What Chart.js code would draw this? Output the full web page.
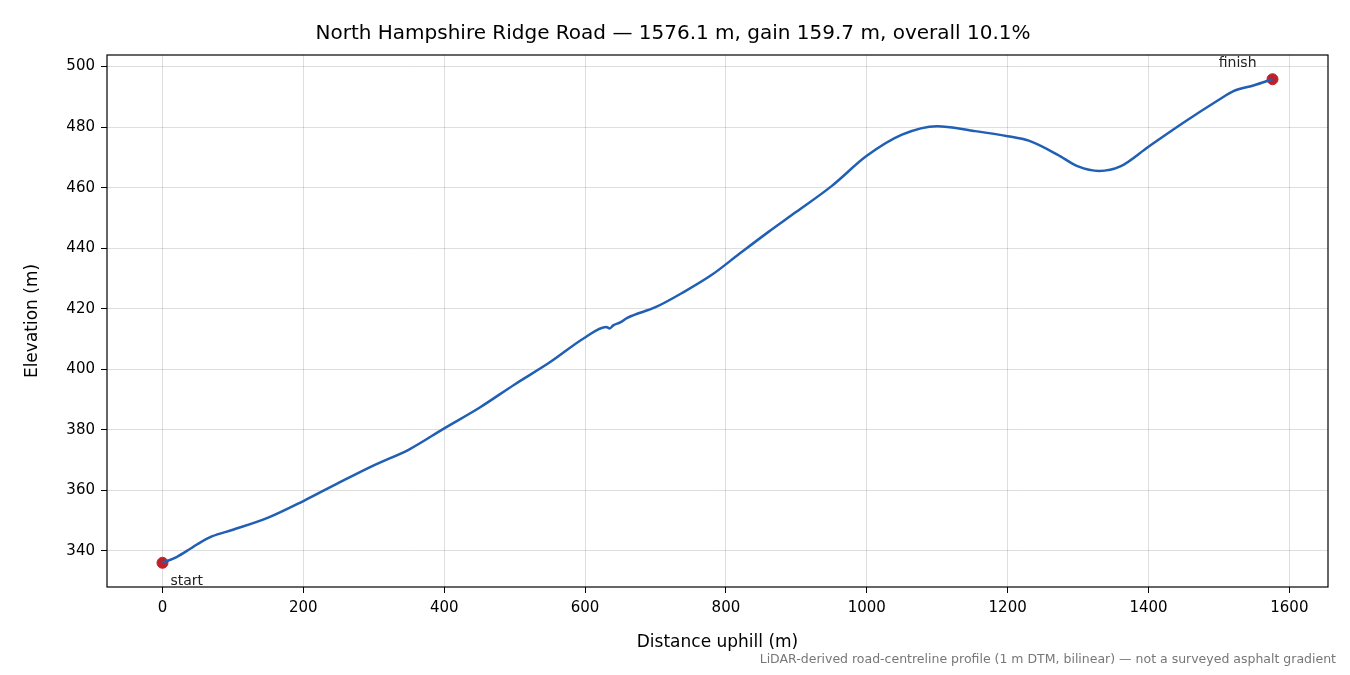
<!DOCTYPE html>
<html><head><meta charset="utf-8">
<script src="https://cdn.jsdelivr.net/npm/chart.js@4"></script>
<style>html,body{margin:0;padding:0;background:#fff}#w{width:1350px;height:675px}</style>
</head><body><div id="w"><canvas id="c"></canvas></div>
<script>
const distances=[0,20,40,50,70,100,150,200,250,300,350,400,450,500,550,600,630,635,640,650,660,700,740,780,820,860,900,950,1000,1050,1100,1150,1200,1230,1270,1300,1330,1360,1400,1450,1500,1520,1550,1576.1];
const elevations=[336.1,338,340.8,342.3,344.8,347,351,356.5,362.5,368.3,373.5,380.5,387.3,395,402.3,410.5,414,413.5,414.5,415.5,417,420.5,425.5,431.2,438.3,445.3,452,460.5,470.5,477.5,480.3,478.8,477,475.5,471,467,465.5,467,473.5,481.5,489,491.8,493.8,495.8];
const xTicks=[0,200,400,600,800,1000,1200,1400,1600];
const yTicks=[340,360,380,400,420,440,460,480,500];
const endpoints=[{x:0,y:336.1,label:'start'},{x:1576.1,y:495.8,label:'finish'}];
const F='"DejaVu Sans", sans-serif';
const labels={id:'lbl',afterDatasetsDraw(ch){const c=ch.ctx,xs=ch.scales.x,ys=ch.scales.y;c.save();c.font='14px '+F;c.fillStyle='#222';
c.textAlign='left';c.textBaseline='top';c.fillText('start',xs.getPixelForValue(0)+8,ys.getPixelForValue(336.1)+12);
c.textAlign='right';c.textBaseline='bottom';c.fillText('finish',xs.getPixelForValue(1576.1)-16,ys.getPixelForValue(495.8)-9);
c.font='12.5px '+F;c.fillStyle='#777';c.textAlign='right';c.textBaseline='middle';c.fillText('LiDAR-derived road-centreline profile (1 m DTM, bilinear) — not a surveyed asphalt gradient',1336,660);
c.strokeStyle='#000';c.lineWidth=1.2;const a=ch.chartArea;c.strokeRect(a.left,a.top,a.right-a.left,a.bottom-a.top);c.restore();}};
new Chart(document.getElementById('c'),{type:'scatter',
data:{datasets:[
{data:distances.map((d,i)=>({x:d,y:elevations[i]})),showLine:true,borderColor:'#1f5fb4',borderWidth:2.5,pointRadius:0,cubicInterpolationMode:'monotone'},
{data:endpoints.map(p=>({x:p.x,y:p.y})),pointRadius:5.5,pointBackgroundColor:'#c0202a',pointBorderColor:'#c0202a',showLine:false}
]},
options:{responsive:true,maintainAspectRatio:false,animation:false,
layout:{padding:{left:18,right:22,top:0,bottom:18}},
plugins:{legend:{display:false},tooltip:{enabled:false},
title:{display:true,text:'North Hampshire Ridge Road — 1576.1 m, gain 159.7 m, overall 10.1%',color:'#000',font:{family:F,size:20,weight:'normal'},padding:{top:22,bottom:9}}},
scales:{
x:{type:'linear',min:-78.8,max:1654.9,afterBuildTicks:s=>{s.ticks=xTicks.map(v=>({value:v}))},afterFit:s=>{s.height=70},
ticks:{color:'#000',font:{family:F,size:15},padding:6,callback:v=>String(v)},grid:{color:'rgba(0,0,0,0.13)',tickColor:'#000',tickLength:6},border:{display:false},
title:{display:true,text:'Distance uphill (m)',color:'#000',font:{family:F,size:17},padding:{top:4}}},
y:{min:328.1,max:503.8,afterBuildTicks:s=>{s.ticks=yTicks.map(v=>({value:v}))},afterFit:s=>{s.width=89},
ticks:{color:'#000',font:{family:F,size:15},padding:6,callback:v=>String(v)},grid:{color:'rgba(0,0,0,0.13)',tickColor:'#000',tickLength:6},border:{display:false},
title:{display:true,text:'Elevation (m)',color:'#000',font:{family:F,size:17},padding:{bottom:8}}}}},
plugins:[labels]});
</script></body></html>
